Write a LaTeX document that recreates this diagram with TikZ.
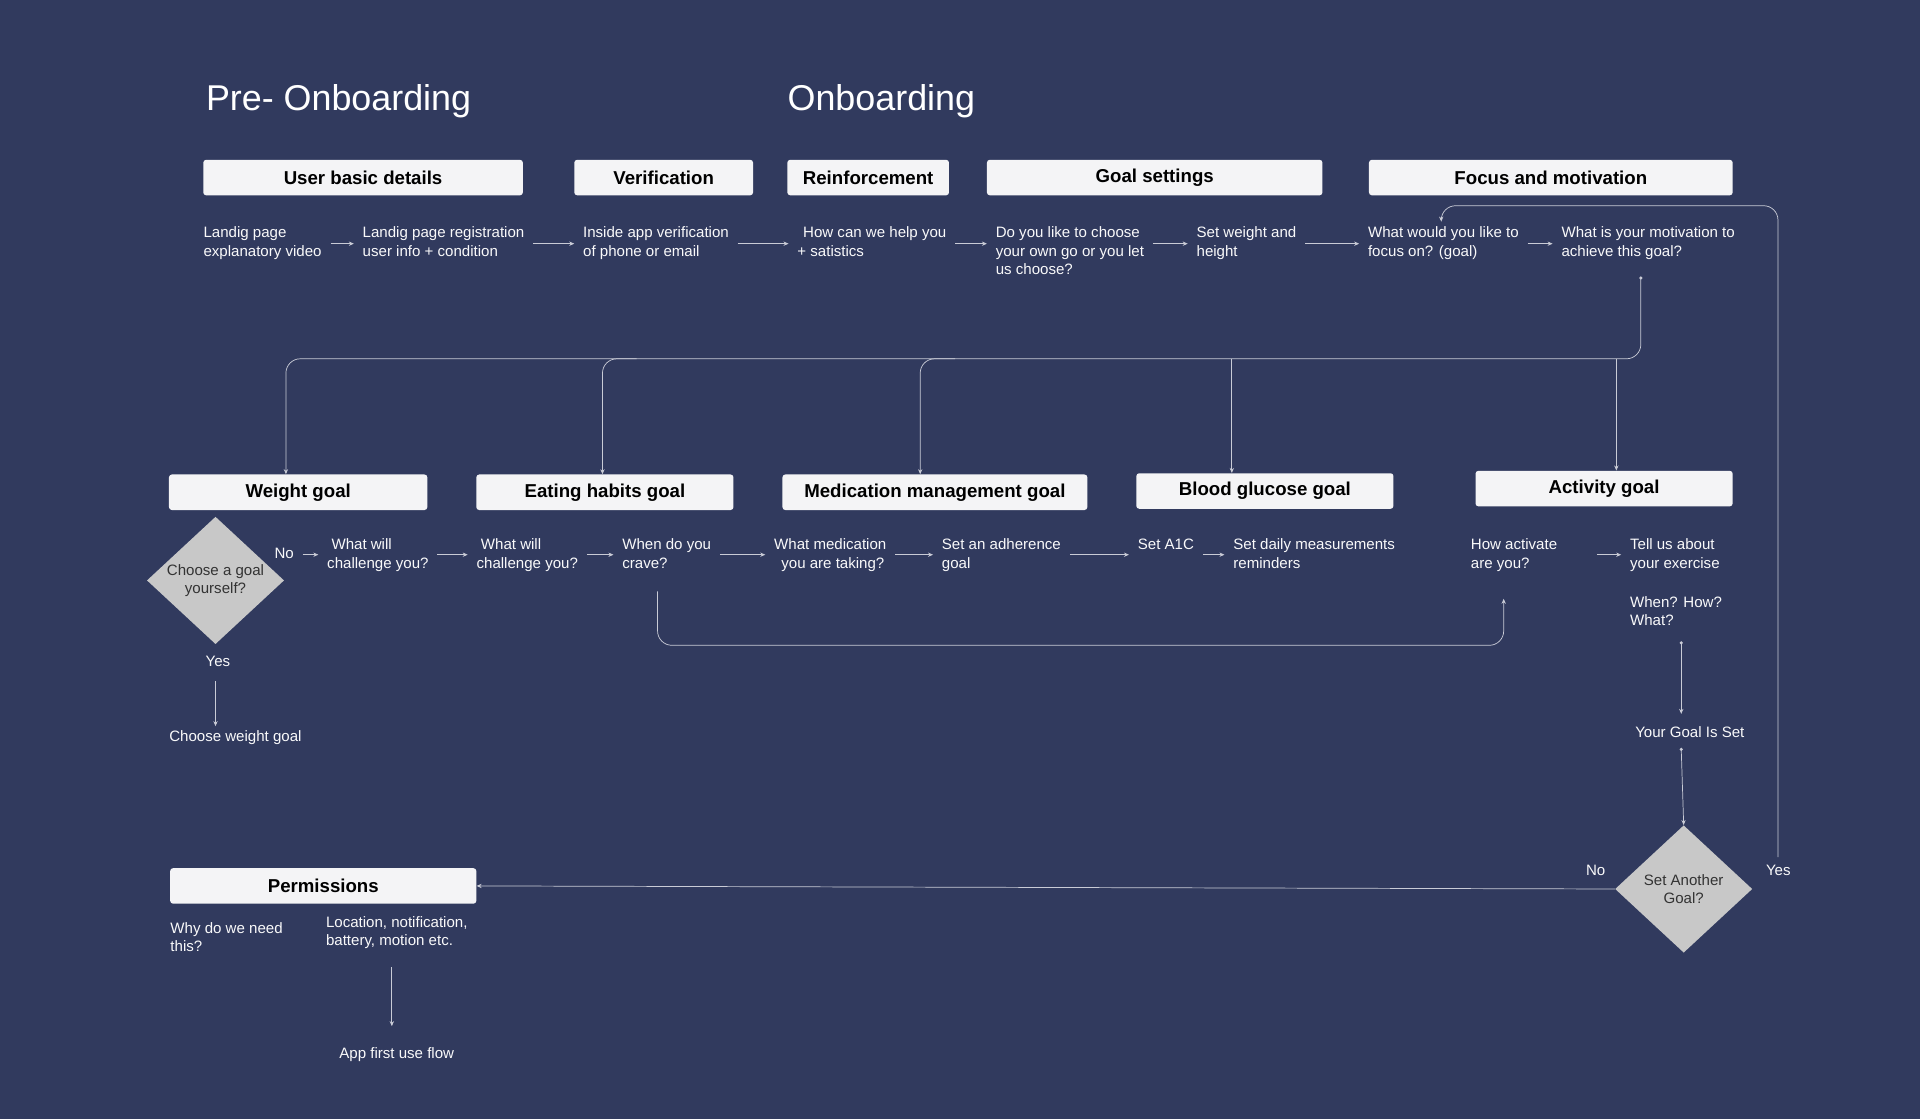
\documentclass[tikz,border=0pt]{standalone}
\usepackage{fontspec}
\setmainfont{Liberation Sans}
\usetikzlibrary{shapes.geometric,arrows.meta}
\definecolor{bgblue}{HTML}{313A5E}
\definecolor{boxwhite}{HTML}{F4F4F6}
\definecolor{linegray}{HTML}{C9CBD6}
\definecolor{diamgray}{HTML}{C8C8C8}
\begin{document}
\begin{tikzpicture}[x=0.03cm,y=-0.03cm,
  txt/.style={anchor=north west, align=left, inner sep=0, text=white!88!linegray,
    font=\fontsize{10.5}{12.8}\selectfont},
  ctxt/.style={txt, anchor=north},
  hdr/.style={fill=boxwhite, rounded corners=2pt, inner sep=0, text=black,
    minimum height=0.87cm, minimum width=#1*0.03cm,
    font=\bfseries\fontsize{13}{15}\selectfont},
  ttl/.style={anchor=west, inner sep=0, text=white, font=\fontsize{25}{28}\selectfont},
  diam/.style={diamond, fill=diamgray, inner sep=0, minimum width=3.36cm,
    minimum height=3.12cm, aspect=1.08, align=center, text=black!80,
    font=\fontsize{10.5}{12.8}\selectfont},
  link/.style={draw=linegray, line width=0.5pt},
  arr/.style={link, -{Stealth[length=3.5pt,width=3pt]}},
  flowarr/.style={arr, shorten <=6pt, shorten >=6pt}
]
\fill[bgblue] (0,0) rectangle (1568,914);
\useasboundingbox (0,0) rectangle (1568,914);

% titles
\node[ttl] (pre) at (168,83) {Pre- Onboarding};
\node[ttl] (onb) at (643,83) {Onboarding};

% stage boxes
\node[hdr=261] (basic)  at (296.5,145) {User basic details};
\node[hdr=146] (verif)  at (542,145)   {Verification};
\node[hdr=132] (reinf)  at (709,145)   {Reinforcement};
\node[hdr=274] (gset)   at (943,145)   {Goal settings};
\node[hdr=297] (focus)  at (1266.5,145){Focus and motivation};

% first row
\coordinate (r1) at (0,199);
\node[txt] (land)  at (166,185)  {Landig page\\explanatory video};
\node[txt] (reg)   at (296,185)  {Landig page registration\\user info + condition};
\node[txt] (inapp) at (476,185)  {Inside app verification\\of phone or email};
\node[txt] (help)  at (651,185)  {\hspace*{4pt}How can we help you\\+ satistics};
\node[txt] (choose) at (813,185) {Do you like to choose\\your own go or you let\\us choose?};
\node[txt] (wh)    at (977,185)  {Set weight and\\height};
\node[txt] (fgoal) at (1117,185) {What would you like to\\focus on? (goal)};
\node[txt] (motiv) at (1275,185) {What is your motivation to\\achieve this goal?};
\foreach \a/\b in {land/reg, reg/inapp, inapp/help, help/choose, choose/wh, wh/fgoal, fgoal/motiv}
  \draw[flowarr] (\a.east |- r1) -- (\b.west |- r1);

% goal boxes
\node[hdr=211] (weight) at (243.5,402) {Weight goal};
\node[hdr=210] (eat)    at (494,402)   {Eating habits goal};
\node[hdr=249] (med)    at (763.5,402) {Medication management goal};
\node[hdr=210] (blood)  at (1033,401)  {Blood glucose goal};
\node[hdr=210] (act)    at (1310,399)  {Activity goal};

% split from motivation
\coordinate (split) at (1340,293);
\coordinate (mtop) at (1340,227);
\fill[linegray] (mtop) circle (1.2pt);
\draw[arr, rounded corners=10pt] (mtop) -- (split) -- ([xshift=-0.3cm]weight.north |- split) -- ([xshift=-0.3cm]weight.north);
\draw[arr, rounded corners=10pt] (520,293) -- ([xshift=-0.06cm]eat.north |- split) -- ([xshift=-0.06cm]eat.north);
\draw[arr, rounded corners=10pt] (780,293) -- ([xshift=-0.36cm]med.north |- split) -- ([xshift=-0.36cm]med.north);
\draw[arr] ([xshift=-0.81cm]blood.north |- split) -- ([xshift=-0.81cm]blood.north);
\draw[arr] ([xshift=0.3cm]act.north |- split) -- ([xshift=0.3cm]act.north);

% loop back to focus
\coordinate (yesup) at (1452,700);
\draw[arr, rounded corners=10pt] (yesup) -- (1452,168) -- (1177,168) -- (1177,181);

% second row
\coordinate (r2) at (0,453);
\node[diam] (self) at (176,474) {Choose a goal\\yourself?};
\node[txt] (no1)   at (224,447)  {No};
\node[txt] (chal1) at (267,440)  {\hspace*{3pt}What will\\challenge you?};
\node[txt] (chal2) at (389,440)  {\hspace*{3pt}What will\\challenge you?};
\node[txt] (crave) at (508,440)  {When do you\\crave?};
\node[txt] (medq)  at (632,440)  {What medication\\\hspace*{5pt}you are taking?};
\node[txt] (adh)   at (769,440)  {Set an adherence\\goal};
\node[txt] (a1c)   at (929,440)  {Set A1C};
\node[txt] (daily) at (1007,440) {Set daily measurements\\reminders};
\node[txt] (howact) at (1201,440) {How activate\\are you?};
\node[txt] (exer)  at (1331,440) {Tell us about\\your exercise};
\node[txt] (when)  at (1331,487) {When? How?\\What?};
\foreach \a/\b in {no1/chal1, chal1/chal2, chal2/crave, crave/medq, medq/adh, adh/a1c, a1c/daily}
  \draw[flowarr] (\a.east |- r2) -- (\b.west |- r2);
\draw[flowarr, shorten <=0pt] (1304,453) -- (exer.west |- r2);

% crave loop to activity
\draw[arr, rounded corners=10pt] (537,483) -- (537,527) -- (1228,527) -- (1228,489);

% weight branch
\node[ctxt] (yes1) at (178,536) {Yes};
\node[txt] (wgoal) at (138,596) {Choose weight goal};
\draw[arr] (176,556) -- (176,593);

% activity chain
\node[ctxt] (set) at (1380,593) {Your Goal Is Set};
\node[diam] (another) at (1375,726) {Set Another\\Goal?};
\draw[arr] (1373,525) -- (1373,583);
\fill[linegray] (1373,525) circle (1.2pt);
\draw[arr] (1373,612) -- (another.north);
\fill[linegray] (1373,612) circle (1.2pt);
\node[txt] (no2)  at (1295,706) {No};
\node[txt] (yes2) at (1442,706) {Yes};

% permissions
\node[hdr=250] (perm) at (264,723.5) {Permissions};
\draw[arr] (another.west) -- (perm.east);
\node[txt] (why) at (139,753) {Why do we need\\this?};
\node[txt] (loc) at (266,748) {Location, notification,\\battery, motion etc.};
\node[ctxt] (first) at (324,855) {App first use flow};
\draw[arr] (320,790) -- (320,838);
\end{tikzpicture}
\end{document}
